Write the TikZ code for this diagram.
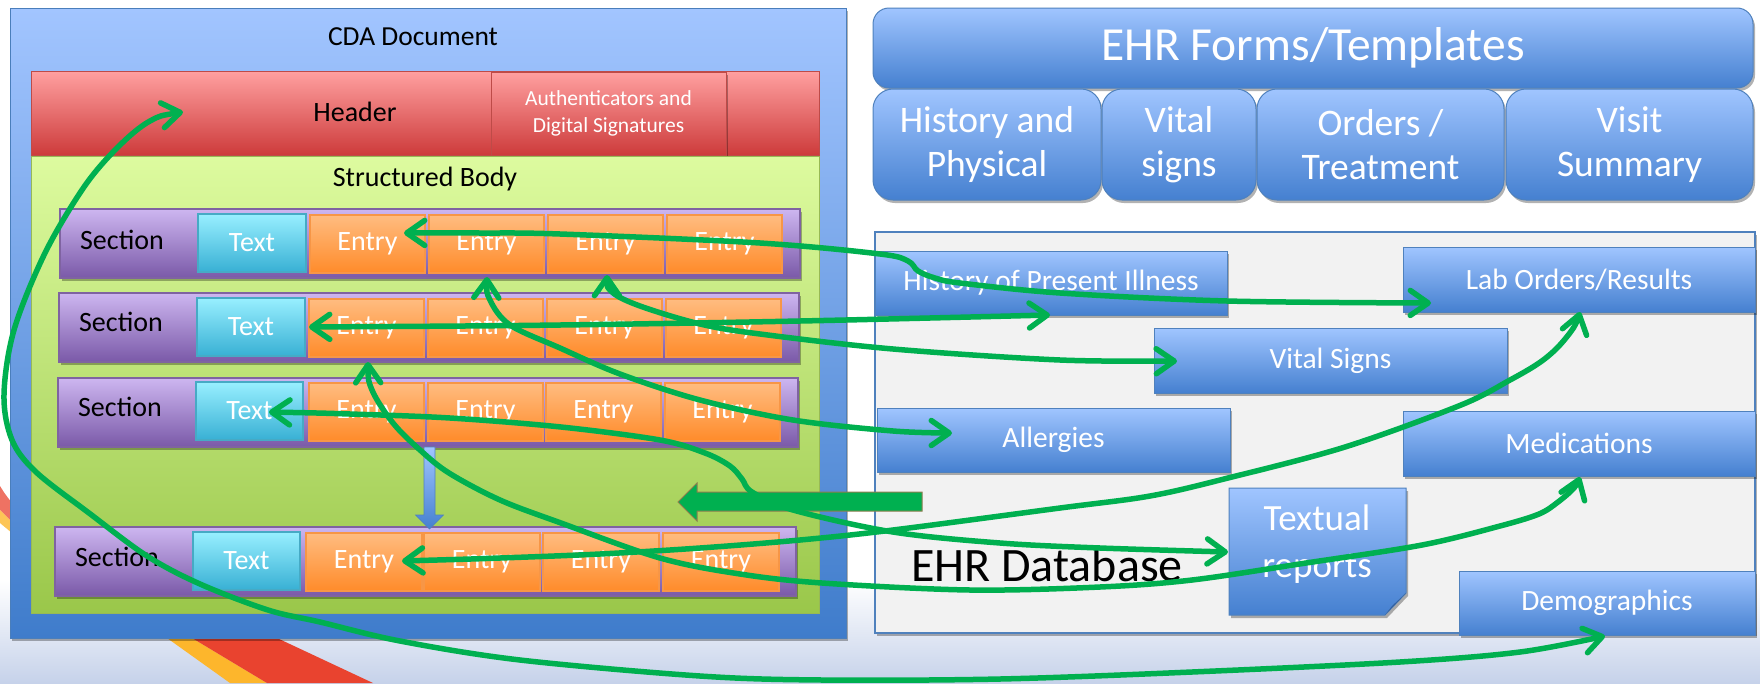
\documentclass[tikz,border=0pt]{standalone}
\usepackage{fontspec}
\setmainfont{Carlito}
\usetikzlibrary{arrows.meta,shadows,calc}
\definecolor{cdaT}{HTML}{A2C5FF}
\definecolor{cdaBot}{HTML}{3F7CCB}
\definecolor{cdaB}{HTML}{4A7EBB}
\definecolor{hdT}{HTML}{FFA0A0}
\definecolor{hdBot}{HTML}{CD3B3B}
\definecolor{hdB}{HTML}{BE4B48}
\definecolor{bdT}{HTML}{DDFB9F}
\definecolor{bdBot}{HTML}{9AC74A}
\definecolor{bdB}{HTML}{98B954}
\definecolor{scT}{HTML}{CDB6F0}
\definecolor{scBot}{HTML}{7A59A8}
\definecolor{scB}{HTML}{7F63A1}
\definecolor{txT}{HTML}{98EFFF}
\definecolor{txBot}{HTML}{38B0D4}
\definecolor{txB}{HTML}{46AAC5}
\definecolor{enT}{HTML}{FFBC80}
\definecolor{enBot}{HTML}{FF8B2A}
\definecolor{enB}{HTML}{F79646}
\definecolor{ehT}{HTML}{A0C5FF}
\definecolor{ehBot}{HTML}{4580D0}
\definecolor{ehB}{HTML}{4F81BD}
\definecolor{dbF}{HTML}{F2F2F2}
\definecolor{grn}{HTML}{00B050}
\definecolor{grnB}{HTML}{8C7E4E}
\definecolor{bgB}{HTML}{C6D2EA}
\definecolor{swR}{HTML}{E9432F}
\definecolor{swY}{HTML}{FDB62C}
\newcommand\fCDA{\fontsize{27.5}{32}\selectfont}
\newcommand\fMid{\fontsize{28}{33}\selectfont}
\newcommand\fAuth{\fontsize{21.5}{27}\selectfont}
\newcommand\fBig{\fontsize{47.5}{56}\selectfont}
\newcommand\fDBT{\fontsize{48}{56}\selectfont}
\newcommand\fForm{\fontsize{37.5}{44}\selectfont}
\newcommand\fDB{\fontsize{29.5}{34}\selectfont}
\newcommand\fTR{\fontsize{37}{47}\selectfont}
\begin{document}
\begin{tikzpicture}[x=1pt,y=-1pt,
  bx/.style={anchor=north west, inner sep=0pt, outer sep=0pt},
  shd/.style={drop shadow={shadow xshift=2pt, shadow yshift=-3pt, opacity=0.3, fill=black}},
  cdabox/.style={bx, draw=cdaB, line width=1pt, top color=cdaT, bottom color=cdaBot},
  hdrbox/.style={bx, draw=hdB, line width=1pt, top color=hdT, bottom color=hdBot},
  bodybox/.style={bx, draw=bdB, line width=1pt, top color=bdT, bottom color=bdBot},
  secbox/.style={bx, draw=scB, line width=1.2pt, top color=scT, bottom color=scBot, minimum height=69pt, shd},
  txbox/.style={bx, draw=txB, line width=1.2pt, top color=txT, bottom color=txBot, text=white, font=\fMid, minimum height=58pt},
  entbox/.style={bx, draw=enB, line width=1.2pt, top color=enT, bottom color=enBot, text=white, font=\fMid, minimum width=115pt, minimum height=58pt},
  seclbl/.style={font=\fMid, text=black},
  ehrbox/.style={bx, draw=ehB, line width=1pt, top color=ehT, bottom color=ehBot, text=white, shd},
  dbbox/.style={ehrbox, font=\fDB},
  gar/.style={draw=grn, line width=5.5pt, line cap=round, line join=round,
    {Straight Barb[length=18pt,width=25pt,round]}-{Straight Barb[length=18pt,width=25pt,round]}},
  plt/.style={smooth, tension=0.55}
]
\useasboundingbox (0,0) rectangle (1760,683);
\fill[white] (0,0) rectangle (1760,683);
\shade[top color=white, bottom color=bgB] (0,580) rectangle (1760,683);
% decorative swoosh
\fill[swY] (100,590) -- (167,638) -- (230,683) -- (267,683) -- (192,638) -- (125,590) -- cycle;
\fill[swR] (125,590) -- (192,638) -- (267,683) -- (373,683) -- (277,638) -- (210,590) -- cycle;
\fill[swR!75] (0,486) .. controls (5,494) .. (12,503) -- (12,522) .. controls (6,516) .. (0,510) -- cycle;
\fill[swY!80] (0,510) .. controls (6,516) .. (12,522) -- (12,533) .. controls (6,528) .. (0,523) -- cycle;

% CDA document
\node[cdabox, shd, minimum width=836pt, minimum height=630pt] (cda) at (10,8) {};
\node[font=\fCDA] (cdat) at (413,37) {CDA Document};
\node[hdrbox, minimum width=788pt, minimum height=84pt] (hdr) at (31,71) {};
\node[font=\fMid] (hdrt) at (355,112) {Header};
\node[hdrbox, shd, minimum width=235pt, minimum height=83pt, text=white, font=\fAuth, align=center] (auth) at (491,72) {Authenticators and\\Digital Signatures};
\node[bodybox, minimum width=788pt, minimum height=457pt] (body) at (31,156) {};
\node[font=\fMid] (bodyt) at (425,179) {Structured Body};

% row 1
\node[secbox, minimum width=740pt] (r1) at (60,209) {};
\node[seclbl] (r1l) at (122,240) {Section};
\node[txbox, minimum width=108pt] (r1t) at (198,214) {Text};
\node[entbox] (r1e1) at (310,215) {Entry};
\node[entbox] (r1e2) at (429,215) {Entry};
\node[entbox] (r1e3) at (548,215) {Entry};
\node[entbox] (r1e4) at (667,215) {Entry};
% row 2
\node[secbox, minimum width=740pt] (r2) at (59,293) {};
\node[seclbl] (r2l) at (121,322) {Section};
\node[txbox, minimum width=108pt] (r2t) at (197,298) {Text};
\node[entbox] (r2e1) at (309,299) {Entry};
\node[entbox] (r2e2) at (428,299) {Entry};
\node[entbox] (r2e3) at (547,299) {Entry};
\node[entbox] (r2e4) at (666,299) {Entry};
% row 3
\node[secbox, minimum width=740pt] (r3) at (58,378) {};
\node[seclbl] (r3l) at (120,407) {Section};
\node[txbox, minimum width=107pt] (r3t) at (196,382) {Text};
\node[entbox] (r3e1) at (309,383) {Entry};
\node[entbox] (r3e2) at (428,383) {Entry};
\node[entbox] (r3e3) at (546,383) {Entry};
\node[entbox] (r3e4) at (665,383) {Entry};
% row 4
\node[secbox, minimum width=741pt] (r4) at (55,527) {};
\node[seclbl] (r4l) at (117,557) {Section};
\node[txbox, minimum width=107pt] (r4t) at (193,532) {Text};
\node[entbox, minimum width=116pt] (r4e1) at (306,533) {Entry};
\node[entbox, minimum width=116pt] (r4e2) at (424,533) {Entry};
\node[entbox, minimum width=116pt] (r4e3) at (543,533) {Entry};
\node[entbox, minimum width=116pt] (r4e4) at (663,533) {Entry};

% vertical blue arrow between rows 3 and 4
\coordinate (va) at (r3.south -| 429.5,0);
\shade[top color=ehT, bottom color=ehBot, draw=ehB, line width=0.6pt]
  (va) ++(-5.5,0) -- ++(0,68) -- ++(-8.5,0) -- ++(14,14) -- ++(14,-14) -- ++(-8.5,0) -- ++(0,-68) -- cycle;

% EHR forms / templates
\node[ehrbox, rounded corners=16pt, minimum width=880pt, minimum height=80pt, font=\fBig] (ehr) at (873,8) {EHR Forms/Templates};
\node[ehrbox, rounded corners=20pt, minimum width=228pt, minimum height=111pt, font=\fForm, align=center] (hp) at (873,89) {History and\\Physical};
\node[ehrbox, rounded corners=20pt, minimum width=154pt, minimum height=111pt, font=\fForm, align=center] (vsf) at (1102,89) {Vital\\signs};
\node[ehrbox, rounded corners=20pt, minimum width=247pt, minimum height=111pt, font=\fForm, align=center] (ot) at (1257,89) {Orders /\\Treatment};
\node[ehrbox, rounded corners=20pt, minimum width=247pt, minimum height=111pt, font=\fForm, align=center] (vsum) at (1506,89) {Visit\\Summary};

% EHR database
\node[bx, draw=ehB, line width=1.5pt, fill=dbF, shd, minimum width=880pt, minimum height=401pt] (db) at (875,232) {};
\node[font=\fDBT] (dbt) at (1047,565) {EHR Database};
\node[dbbox, minimum width=352pt, minimum height=64pt] (hpi) at (875,251) {History of Present Illness};
\node[dbbox, minimum width=352pt, minimum height=65pt] (lab) at (1403,247) {Lab Orders/Results};
\node[dbbox, minimum width=353pt, minimum height=65pt] (vsg) at (1154,328) {Vital Signs};
\node[dbbox, minimum width=353pt, minimum height=64pt] (alg) at (877,408) {Allergies};
\node[dbbox, minimum width=352pt, minimum height=65pt] (med) at (1403,411) {Medications};
\node[bx, minimum width=177pt, minimum height=127pt] (tr) at (1229,488) {};
\shade[top color=ehT, bottom color=ehBot, draw=ehB, line width=1pt, shd]
  (tr.north west) -- (tr.north east) -- ($(tr.south east)+(0,-22)$) -- ($(tr.south east)+(-21,0)$) -- (tr.south west) -- cycle;
\fill[ehBot!75!black] ($(tr.south east)+(0,-22)$) -- ($(tr.south east)+(-14,-9)$) -- ($(tr.south east)+(-21,0)$) -- cycle;
\node[text=white, font=\fTR, align=center] (trt) at (1317,544) {Textual\\reports};
\node[dbbox, minimum width=296pt, minimum height=64pt] (dem) at (1459,571) {Demographics};

% big green block arrow
\coordinate (bgtip) at (678,502);
\draw[grnB, fill=grn, line width=1pt] (bgtip) -- ++(19,-19) -- ++(0,9) -- ++(225,0) -- ++(0,19) -- ++(-225,0) -- ++(0,10) -- cycle;

% connector end points
\coordinate (hdrP) at (183,112);
\coordinate (demP) at (1605,636);
\coordinate (r1e1P) at (404,233);
\coordinate (labP1) at (1431,303);
\coordinate (r2tP) at (309,327);
\coordinate (hpiP) at (1050,315);
\coordinate (r1e2P) at (487,277);
\coordinate (algP) at (952,433);
\coordinate (r1e3P) at (607,275);
\coordinate (vsgP) at (1177,361);
\coordinate (r2e1P) at (368,362);
\coordinate (medP) at (1580,477);
\coordinate (r3tP) at (269,412);
\coordinate (trP) at (1228,552);
\coordinate (r4e1P) at (402,561);
\coordinate (labP2) at (1580,312);

% green connectors
\draw[gar] plot[plt] coordinates {(hdrP) (150,121) (118,147) (84,187) (45,253) (14,330) (4,395) (12,440) (36,472) (89,513) (147,556) (200,584) (268,610) (320,622) (400,641) (520,660) (700,676) (822,680) (1000,679) (1192,672) (1400,662) (1520,652) (demP)};
\draw[gar] plot[plt] coordinates {(r1e1P) (480,233) (560,234) (760,243) (880,254) (908,261) (918,271) (935,278) (960,283) (1060,293) (1227,301) (labP1)};
\draw[gar] plot[plt] coordinates {(r2tP) (560,325) (800,321) (hpiP)};
\draw[gar] plot[plt] coordinates {(r1e2P) (490,300) (510,325) (560,348) (620,374) (700,400) (793,420) (893,431) (algP)};
\draw[gar] plot[plt] coordinates {(r1e3P) (612,292) (640,306) (700,324) (760,334) (893,349) (1060,360) (vsgP)};
\draw[gar] plot[plt] coordinates {(r2e1P) (372,390) (393,423) (420,450) (449,473) (500,500) (561,523) (660,558) (740,574) (822,583) (970,590) (1100,587) (1192,580) (1306,563) (1422,545) (1500,526) (1539,514) (1558,502) (1574,488) (medP)};
\draw[gar] plot[plt] coordinates {(r3tP) (350,414) (450,418) (561,427) (660,440) (705,453) (730,466) (742,479) (752,492) (793,510) (893,532) (1000,543) (1100,548) (trP)};
\draw[gar] plot[plt] coordinates {(r4e1P) (500,558) (600,554) (700,548) (800,540) (893,530) (1060,508) (1150,496) (1228,478) (1345,447) (1461,405) (1510,380) (1539,363) (1558,347) (1574,327) (labP2)};
\end{tikzpicture}
\end{document}
